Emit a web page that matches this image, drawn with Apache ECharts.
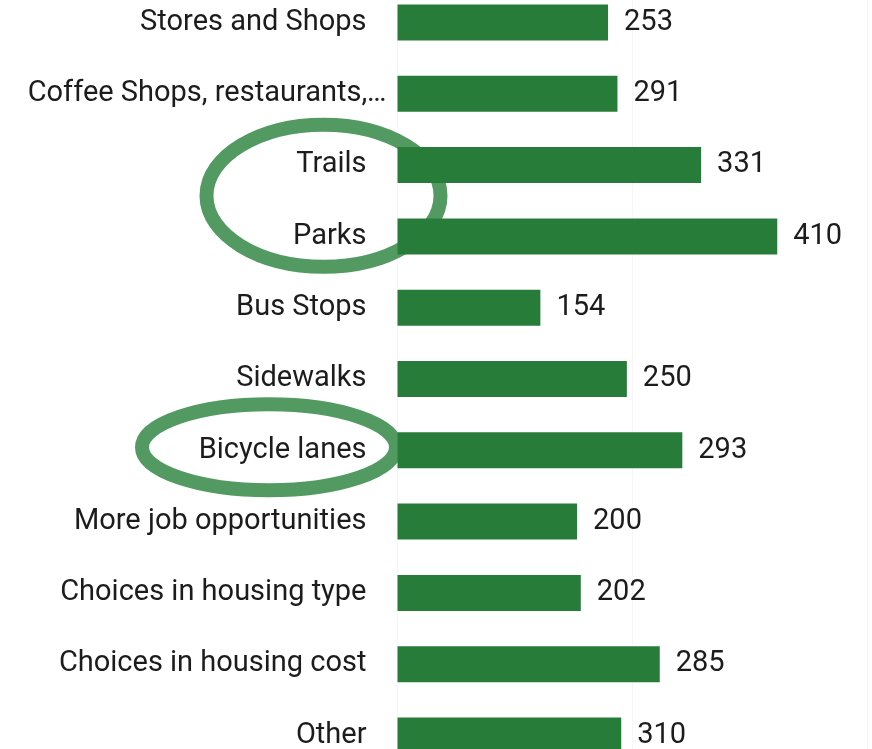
<html>
<head>
    <meta charset="UTF-8">
    <title>Destinations</title>
    <script src="https://cdn.jsdelivr.net/npm/echarts/dist/echarts.min.js"></script>
    <style>
        body { margin: 0; padding: 0; background: #fff; }
        #echart { width: 872px; height: 749px; }
    </style>
</head>
<body>
<div id="echart"></div>
<script>
    // categories, top to bottom
    const categories = ['Stores and Shops', 'Coffee Shops, restaurants,\u2026', 'Trails', 'Parks', 'Bus Stops',
        'Sidewalks', 'Bicycle lanes', 'More job opportunities', 'Choices in housing type',
        'Choices in housing cost', 'Other'];
    // numbers printed next to the bars
    const responses = [253, 291, 331, 410, 154, 250, 293, 200, 202, 285, 310];
    // bar extents as drawn in the picture (same units)
    const barLengths = [224, 234, 323, 404, 152, 244, 303, 191, 195, 279, 238];
    // categories that are circled
    const circled = [['Trails', 'Parks'], ['Bicycle lanes']];

    const green = '#287c3a';
    const ring = '#529a62';
    const font = 'Roboto';

    const ec = echarts.init(document.getElementById('echart'));
    ec.setOption({
        animation: false,
        grid: { left: 397.5, right: 4.5, top: -13.2, bottom: -22.2, containLabel: false, outerBoundsMode: 'none' },
        xAxis: {
            type: 'value', min: 0, max: 500, interval: 250,
            axisLine: { show: false }, axisTick: { show: false }, axisLabel: { show: false },
            splitLine: { show: true, lineStyle: { color: '#f6f6f6', width: 1 } }
        },
        yAxis: {
            type: 'category', inverse: true,
            data: categories.map((c, i) => i === 1
                ? { value: c, textStyle: { padding: [0, -20, 0, 0] } }
                : c),
            axisLine: { show: false }, axisTick: { show: false },
            axisLabel: { margin: 31, fontSize: 29, fontFamily: font, color: '#1c1c1c' }
        },
        series: [{
            type: 'bar', barWidth: 36, z: 2,
            data: barLengths,
            itemStyle: { color: green },
            label: {
                show: true, position: 'right', distance: 16,
                fontSize: 29, fontFamily: font, color: '#1c1c1c',
                formatter: p => responses[p.dataIndex]
            }
        }]
    });

    // ellipses around the circled labels
    const x0 = ec.convertToPixel({ xAxisIndex: 0 }, 0);
    const ys = circled.map(g => g.map(c => ec.convertToPixel({ yAxisIndex: 0 }, c)));
    const mid = a => a.reduce((s, v) => s + v, 0) / a.length;
    ec.setOption({
        graphic: [
            {
                type: 'ellipse', z: 1,
                shape: { cx: x0 - 74, cy: mid(ys[0]) - 5, rx: 117, ry: 71 },
                style: { fill: 'none', stroke: ring, lineWidth: 14 }
            },
            {
                type: 'ellipse', z: 1,
                shape: { cx: x0 - 128.5, cy: mid(ys[1]) - 3, rx: 127, ry: 43 },
                style: { fill: 'none', stroke: ring, lineWidth: 14 }
            }
        ]
    });
</script>
</body>
</html>
